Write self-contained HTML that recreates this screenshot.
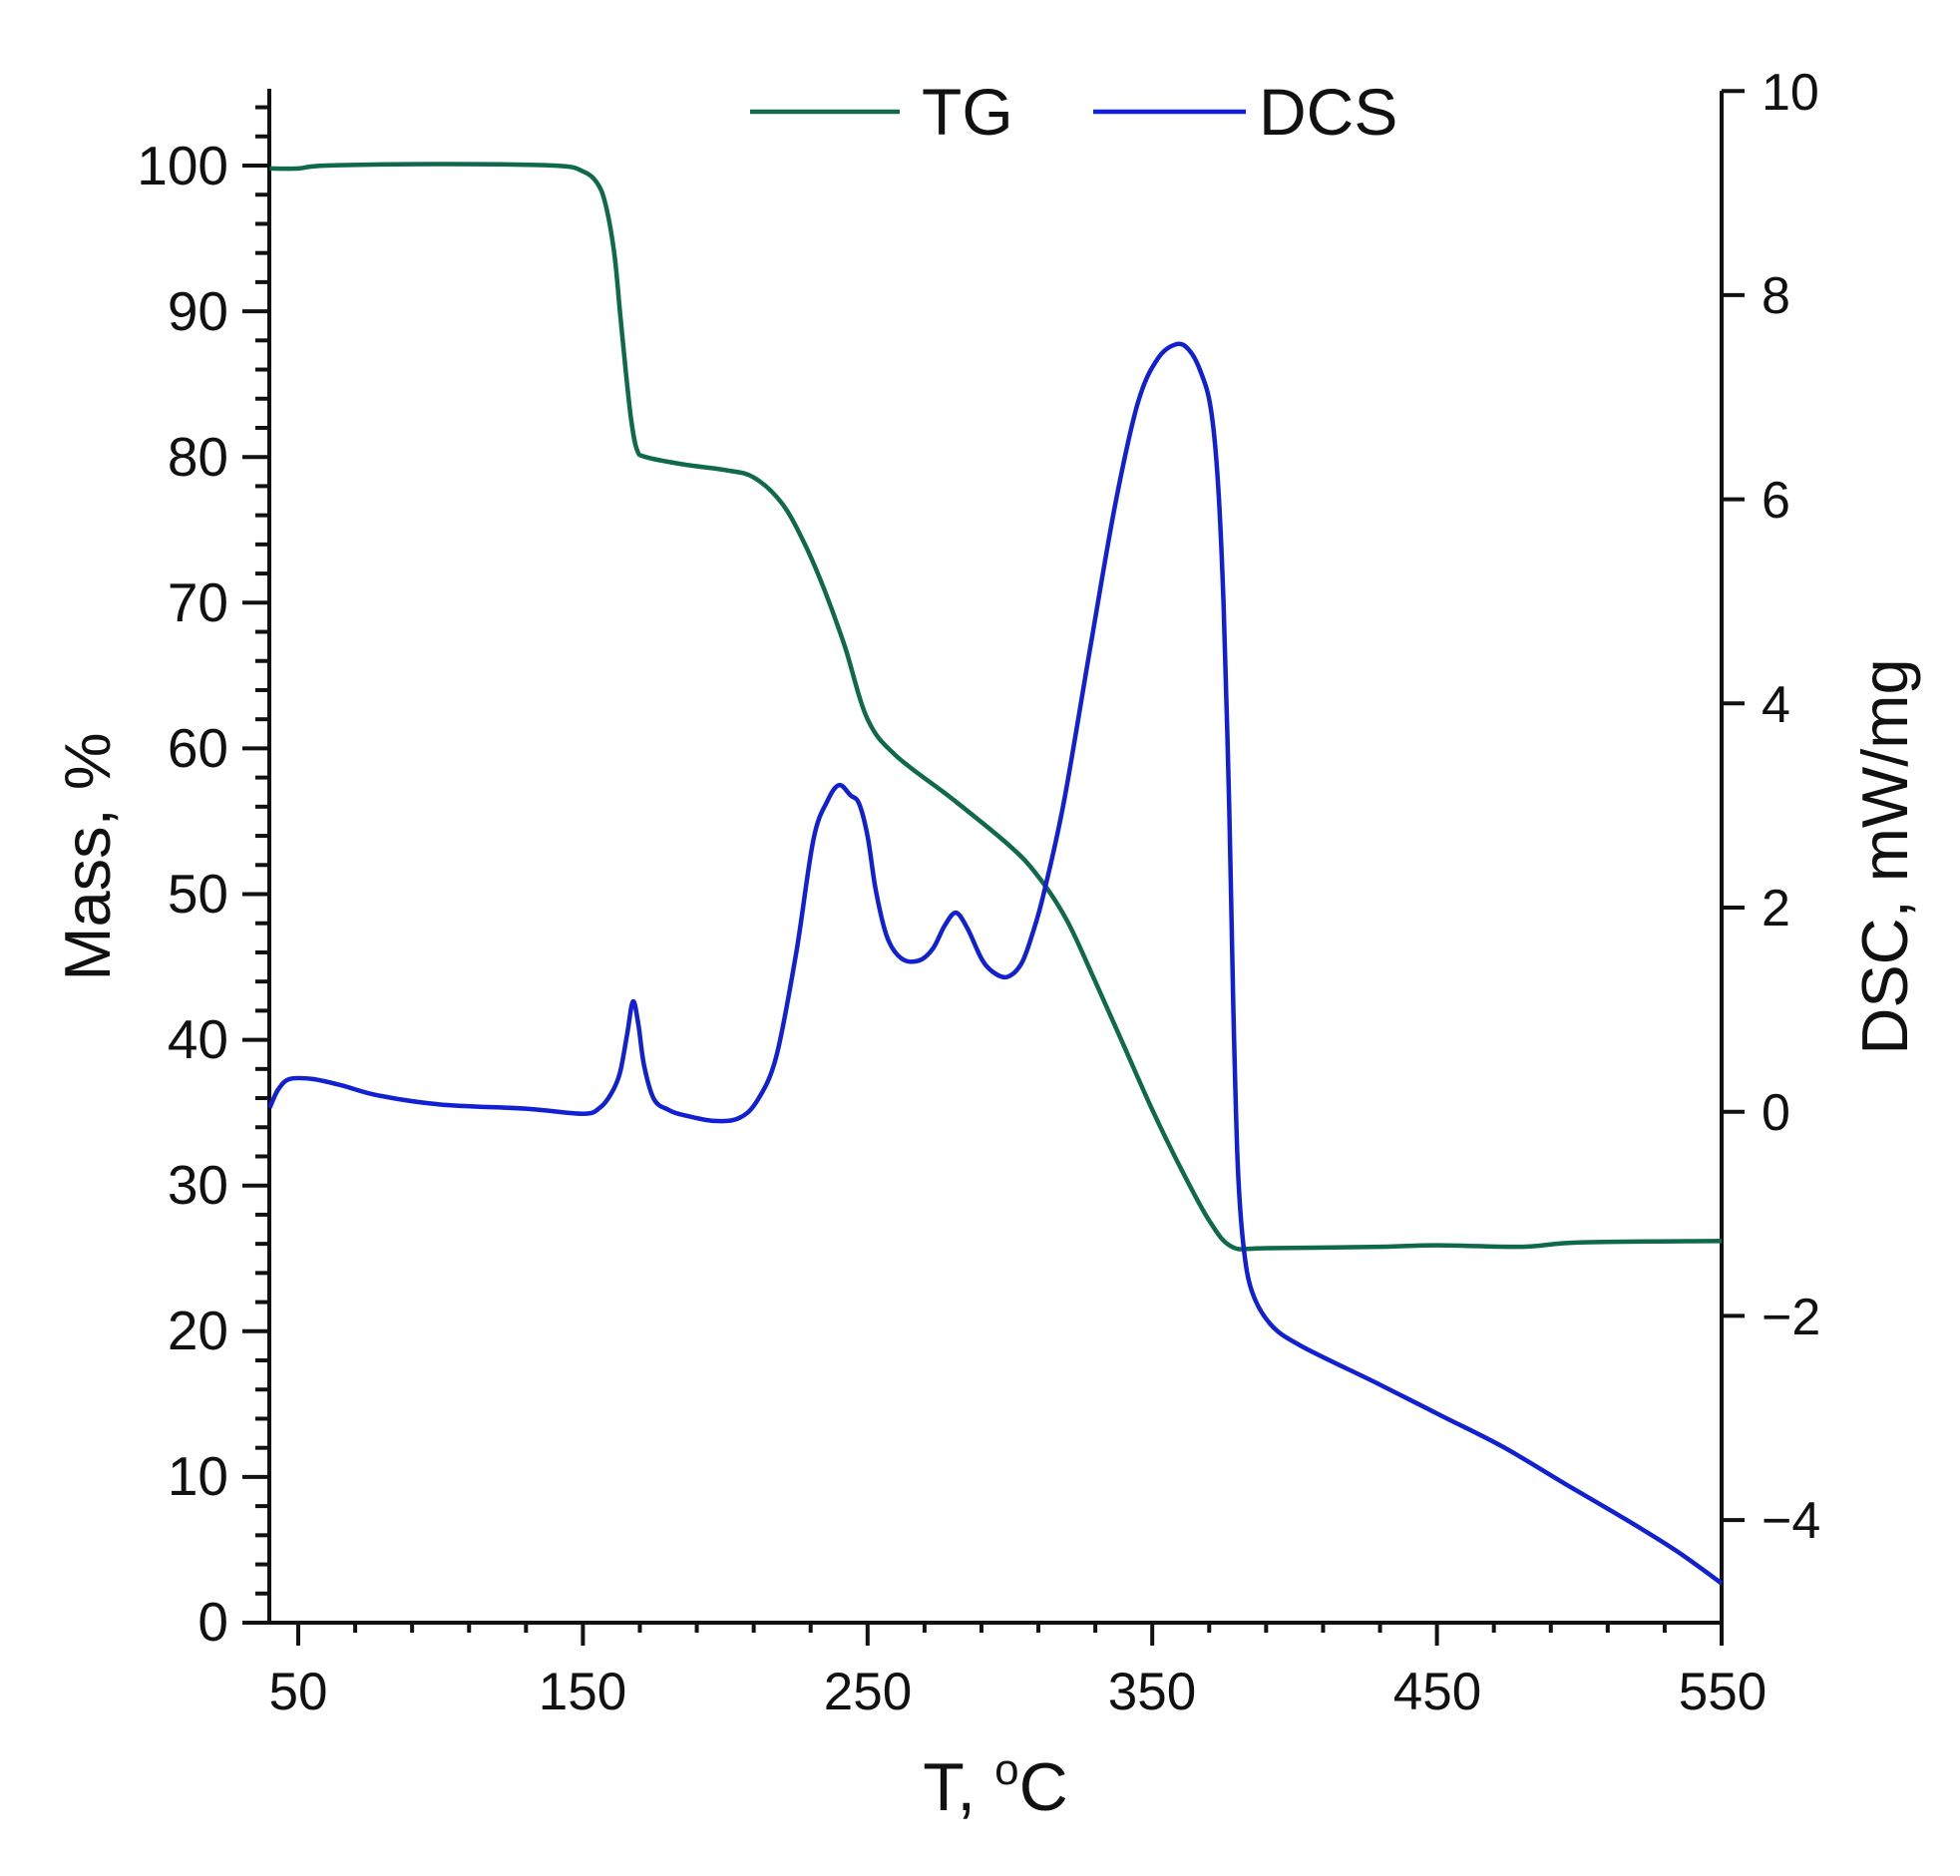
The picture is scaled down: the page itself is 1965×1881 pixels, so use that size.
<!DOCTYPE html>
<html><head><meta charset="utf-8"><style>
html,body{margin:0;padding:0;background:#fff;}
svg{display:block;}
text{font-family:"Liberation Sans",Arial,sans-serif;fill:#111;}
</style></head><body>
<svg id="s" width="1965" height="1881" viewBox="0 0 1965 1881" xmlns="http://www.w3.org/2000/svg">
<g id="ax" stroke="#111" stroke-width="4" fill="none"></g>
<path id="tg" fill="none" stroke="#0f6a4a" stroke-width="4.5" stroke-linejoin="round"/>
<path id="dsc" fill="none" stroke="#1020d2" stroke-width="4.5" stroke-linejoin="round"/>
<g font-size="55" text-anchor="end">
<text x="229" y="185">100</text><text x="229" y="331">90</text><text x="229" y="477">80</text>
<text x="229" y="623">70</text><text x="229" y="769">60</text><text x="229" y="915">50</text>
<text x="229" y="1061">40</text><text x="229" y="1207">30</text><text x="229" y="1353">20</text>
<text x="229" y="1499">10</text><text x="229" y="1645">0</text>
</g>
<g font-size="52" text-anchor="start">
<text x="1766" y="110">10</text><text x="1766" y="314">8</text><text x="1766" y="519">6</text>
<text x="1766" y="724">4</text><text x="1766" y="928">2</text><text x="1766" y="1133">0</text>
<text x="1766" y="1338">−2</text><text x="1766" y="1542">−4</text>
</g>
<g font-size="53" text-anchor="middle">
<text x="299" y="1714">50</text><text x="584" y="1714">150</text><text x="870" y="1714">250</text>
<text x="1155" y="1714">350</text><text x="1441" y="1714">450</text><text x="1727" y="1714">550</text>
</g>
<text x="998" y="1815" font-size="68" text-anchor="middle">T, <tspan font-size="44" dy="-26">o</tspan><tspan dy="26">C</tspan></text>
<text transform="translate(110,859) rotate(-90)" font-size="65" text-anchor="middle">Mass, %</text>
<text transform="translate(1912,859) rotate(-90)" font-size="65" text-anchor="middle">DSC, mW/mg</text>
<line x1="752" y1="112" x2="902" y2="112" stroke="#0f6a4a" stroke-width="4.5"/>
<text x="924" y="135" font-size="66">TG</text>
<line x1="1096" y1="112" x2="1249" y2="112" stroke="#1020d2" stroke-width="4.5"/>
<text x="1262" y="135" font-size="66">DCS</text>
</svg>
<script>
var X=function(t){return 299+(t-50)*2.854;};
var YL=function(v){return 1627-v*14.61;};
var YR=function(v){return 1114.7-v*102.35;};
var ax=document.getElementById('ax'),h='';
function L(a,b,c,d){h+='<line x1="'+a+'" y1="'+b+'" x2="'+c+'" y2="'+d+'"/>';}
L(270,89,270,1629);L(268,1627,1728,1627);L(1726,91,1726,1629);
for(var v=0;v<=104;v+=2){var y=YL(v);L(270,y,(v%10==0)?243:256,y);}
for(var t=50;t<=550;t+=20){var x=X(t);var maj=((t-50)%100==0);L(x,1627,x,maj?1650:1637);}
for(var v=-4;v<=10;v+=2){var y=YR(v);L(1726,y,1749,y);}
ax.innerHTML=h;
function path(d,fy){var p=d.map(function(q){return [X(q[0]),fy(q[1])];});
 var s='M'+p[0][0].toFixed(1)+','+p[0][1].toFixed(1);
 for(var i=0;i<p.length-1;i++){var p0=p[i-1]||p[i],p1=p[i],p2=p[i+1],p3=p[i+2]||p2;
  var c1x=p1[0]+(p2[0]-p0[0])/6,c1y=p1[1]+(p2[1]-p0[1])/6,c2x=p2[0]-(p3[0]-p1[0])/6,c2y=p2[1]-(p3[1]-p1[1])/6;
  s+=' C'+c1x.toFixed(1)+','+c1y.toFixed(1)+' '+c2x.toFixed(1)+','+c2y.toFixed(1)+' '+p2[0].toFixed(1)+','+p2[1].toFixed(1);}
 return s;}
var tg=[[40,99.8],[50,99.8],[60,100],[100,100.1],[140,100],[150,99.6],[155,98.8],[158,97.3],[161,94],[163,90],[165,86],[167,82.5],[169,80.5],[172,80],[185,79.5],[200,79.1],[210,78.6],[220,76.8],[228,74],[235,70.8],[242,67],[250,62],[260,59.5],[280,56.5],[300,53.3],[310,51.2],[320,48.2],[330,44],[340,39.6],[350,35.2],[360,31.2],[370,27.6],[378,25.8],[390,25.7],[430,25.8],[450,25.9],[480,25.8],[500,26.1],[550,26.2]];
var dsc=[[40,0.04],[43,0.22],[47,0.32],[55,0.32],[65,0.26],[78,0.16],[100,0.07],[130,0.03],[150,-0.02],[156,0.04],[160,0.18],[163,0.38],[165.5,0.75],[167.6,1.08],[169.5,0.85],[171.5,0.45],[175,0.12],[180,0.02],[185,-0.03],[196,-0.09],[205,-0.06],[211.5,0.12],[218,0.55],[225,1.57],[231,2.67],[236,3.05],[240,3.2],[244,3.1],[247,3.02],[250,2.7],[253,2.15],[257,1.7],[262,1.5],[268,1.48],[273,1.6],[277,1.82],[281,1.95],[285,1.8],[290,1.5],[294,1.37],[299,1.32],[304,1.45],[308,1.75],[312,2.15],[319,3.04],[328,4.51],[337,5.95],[345,6.95],[352,7.38],[358.6,7.52],[363,7.46],[367,7.25],[370.5,6.9],[373,6.2],[375,5.0],[377,3.0],[378.5,1.0],[380,-0.5],[382,-1.3],[385,-1.76],[391.5,-2.08],[402,-2.29],[429,-2.66],[451,-2.97],[473,-3.28],[494.7,-3.64],[516.7,-4.0],[534,-4.3],[550,-4.62]];
document.getElementById('tg').setAttribute('d',path(tg,YL));
document.getElementById('dsc').setAttribute('d',path(dsc,YR));
</script>
</body></html>
